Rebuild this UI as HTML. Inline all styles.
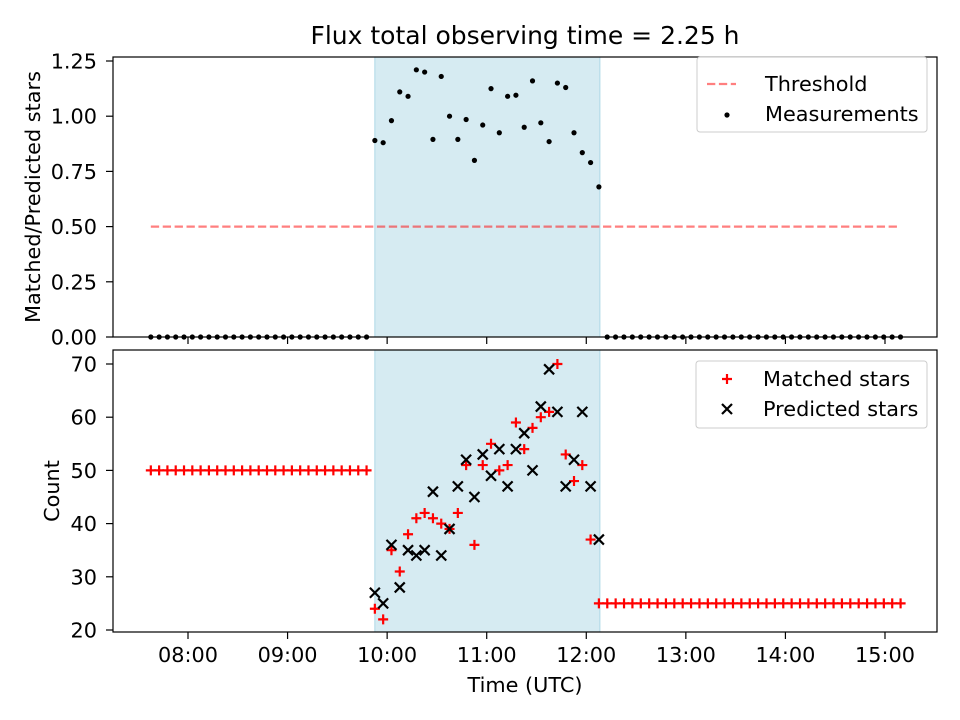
<!DOCTYPE html>
<html><head><meta charset="utf-8"><style>
html,body{margin:0;padding:0;background:#fff}
body{position:relative;width:960px;height:720px}
svg{display:block;font-family:"DejaVu Sans","Liberation Sans",sans-serif}
</style></head><body>
<svg id="chart" width="960" height="720" viewBox="0 0 960 720" xmlns="http://www.w3.org/2000/svg">
<text x="525" y="44" font-size="25" text-anchor="middle">Flux total observing time = 2.25 h</text>
<g id="gtop"></g><g id="gbot"></g>
</svg>
<script>
// ---- data ----
const leftStart = 457.6, obsStart = 592.6, rightStartTop = 732.6, rightStartBot = 727.6, stepMin = 5.05;
const leftCount = 27, rightCountTop = 36, rightCountBot = 37;
const ratioObs = [0.89,0.88,0.98,1.11,1.09,1.21,1.20,0.895,1.18,1.00,0.895,0.985,0.80,0.96,1.125,0.925,1.09,1.095,0.95,1.16,0.97,0.885,1.15,1.13,0.925,0.835,0.79,0.68];
const matchedObs = [24,22,35,31,38,41,42,41,40,39,42,51,36,51,55,50,51,59,54,58,60,61,70,53,48,51,37];
const predictedObs = [27,25,36,28,35,34,35,46,34,39,47,52,45,53,49,54,47,54,57,50,62,69,61,47,52,61,47,37];
const leftMatched = 50, rightMatched = 25, threshold = 0.5;
const xTicks = [480,540,600,660,720,780,840,900];
const xTickLabels = ["08:00","09:00","10:00","11:00","12:00","13:00","14:00","15:00"];
const yTopTicks = [0,0.25,0.5,0.75,1.0,1.25];
const yTopLabels = ["0.00","0.25","0.50","0.75","1.00","1.25"];
const yBotTicks = [20,30,40,50,60,70];
const shadeStart = 592.6, shadeEnd = 728.2;

// ---- scales ----
const X0=113,X1=937;
const xs = m => 188 + (m-480)/60*99.57;
const yT = v => 337 - v*220.8;
const yB = v => 630 - (v-20)*5.32;
const NS="http://www.w3.org/2000/svg";
function mk(parent,tag,attrs){const e=document.createElementNS(NS,tag);for(const k in attrs)e.setAttribute(k,attrs[k]);parent.appendChild(e);return e;}
const gTop=document.getElementById('gtop'), gBot=document.getElementById('gbot');

const leftT=[],obsT=[],rightTT=[],rightTB=[];
for(let i=0;i<leftCount;i++)leftT.push(leftStart+5*i);
for(let i=0;i<ratioObs.length;i++)obsT.push(obsStart+5*i);
for(let i=0;i<rightCountTop;i++)rightTT.push(rightStartTop+stepMin*i);
for(let i=0;i<rightCountBot;i++)rightTB.push(rightStartBot+stepMin*i);

function panel(g,yTop,yBottom,name){
  let s=mk(g,'rect',{x:xs(shadeStart),y:yTop,width:xs(shadeEnd)-xs(shadeStart),height:yBottom-yTop,fill:'#add8e6','fill-opacity':0.5,stroke:'#add8e6','stroke-width':1});
  
  
}
function frame(g,yTop,yBottom,name){
  let r=mk(g,'rect',{x:X0,y:yTop,width:X1-X0,height:yBottom-yTop,fill:'none',stroke:'#000','stroke-width':1.2});
  
  
  xTicks.forEach((t,i)=>{
    const tk=mk(g,'line',{x1:xs(t),x2:xs(t),y1:yBottom,y2:yBottom+7,stroke:'#000','stroke-width':1.2});
    
    
  });
}
function plus(g,x,y){const p=mk(g,'path',{d:`M${x-5} ${y}H${x+5}M${x} ${y-5}V${y+5}`,stroke:'#ff0000','stroke-width':2.2});}
function cross(g,x,y){const p=mk(g,'path',{d:`M${x-5} ${y-5}L${x+5} ${y+5}M${x-5} ${y+5}L${x+5} ${y-5}`,stroke:'#000','stroke-width':2.2});}
function dot(g,x,y){const c=mk(g,'circle',{cx:x,cy:y,r:2.6,fill:'#000'});}

// TOP
panel(gTop,57,337,'top');
const th=mk(gTop,'line',{x1:xs(leftT[0]),x2:xs(rightTT[rightTT.length-1]),y1:yT(threshold),y2:yT(threshold),stroke:'#ff0000','stroke-opacity':0.5,'stroke-width':2.2,'stroke-dasharray':'8.3 3.6'});


leftT.forEach(t=>dot(gTop,xs(t),yT(0)));
obsT.forEach((t,i)=>dot(gTop,xs(t),yT(ratioObs[i])));
rightTT.forEach(t=>dot(gTop,xs(t),yT(0)));
frame(gTop,57,337,'top');
yTopTicks.forEach((v,i)=>{
  const tk=mk(gTop,'line',{x1:X0-7,x2:X0,y1:yT(v),y2:yT(v),stroke:'#000','stroke-width':1.2});
  
  
  const tx=mk(gTop,'text',{x:X0-16,y:yT(v)+7.5,'font-size':20.8,'text-anchor':'end'});tx.textContent=yTopLabels[i];
  
  
});
// BOTTOM
panel(gBot,350,632,'bottom');
leftT.forEach(t=>plus(gBot,xs(t),yB(leftMatched)));
matchedObs.forEach((v,i)=>plus(gBot,xs(obsT[i]),yB(v)));
rightTB.forEach(t=>plus(gBot,xs(t),yB(rightMatched)));
predictedObs.forEach((v,i)=>cross(gBot,xs(obsT[i]),yB(v)));
frame(gBot,350,632,'bottom');
yBotTicks.forEach(v=>{
  const tk=mk(gBot,'line',{x1:X0-7,x2:X0,y1:yB(v),y2:yB(v),stroke:'#000','stroke-width':1.2});
  
  
  const tx=mk(gBot,'text',{x:X0-16,y:yB(v)+7.5,'font-size':20.8,'text-anchor':'end'});tx.textContent=String(v);
  
  
});
xTicks.forEach((t,i)=>{
  const tx=mk(gBot,'text',{x:xs(t),y:662,'font-size':20.8,'text-anchor':'middle'});tx.textContent=xTickLabels[i];
  
  
});
</script>
<svg width="960" height="720" style="position:absolute;left:0;top:0" xmlns="http://www.w3.org/2000/svg" font-family="DejaVu Sans, Liberation Sans, sans-serif">
<text x="525" y="692" font-size="20.8" text-anchor="middle">Time (UTC)</text>
<text transform="translate(40,197) rotate(-90)" font-size="20.8" text-anchor="middle">Matched/Predicted stars</text>
<text transform="translate(59,491) rotate(-90)" font-size="20.8" text-anchor="middle">Count</text>
<g>
<rect x="697" y="57" width="230" height="75" rx="3" fill="#fff" fill-opacity="0.8" stroke="#ccc"/>
<line x1="707" y1="84" x2="736" y2="84" stroke="#ff0000" stroke-opacity="0.5" stroke-width="2.2" stroke-dasharray="8.3 3.6"/>
<text x="765" y="91" font-size="20.8">Threshold</text>
<circle cx="727" cy="115" r="2.6" fill="#000"/>
<text x="765" y="121" font-size="20.8">Measurements</text>
</g>
<g>
<rect x="696" y="361" width="231" height="67" rx="3" fill="#fff" fill-opacity="0.8" stroke="#ccc"/>
<path d="M722 379H732M727 374V384" stroke="#ff0000" stroke-width="2.2"/>
<text x="763" y="386" font-size="20.8">Matched stars</text>
<path d="M722 404L732 414M722 414L732 404" stroke="#000" stroke-width="2.2"/>
<text x="763" y="416" font-size="20.8">Predicted stars</text>
</g>
</svg>
</body></html>
